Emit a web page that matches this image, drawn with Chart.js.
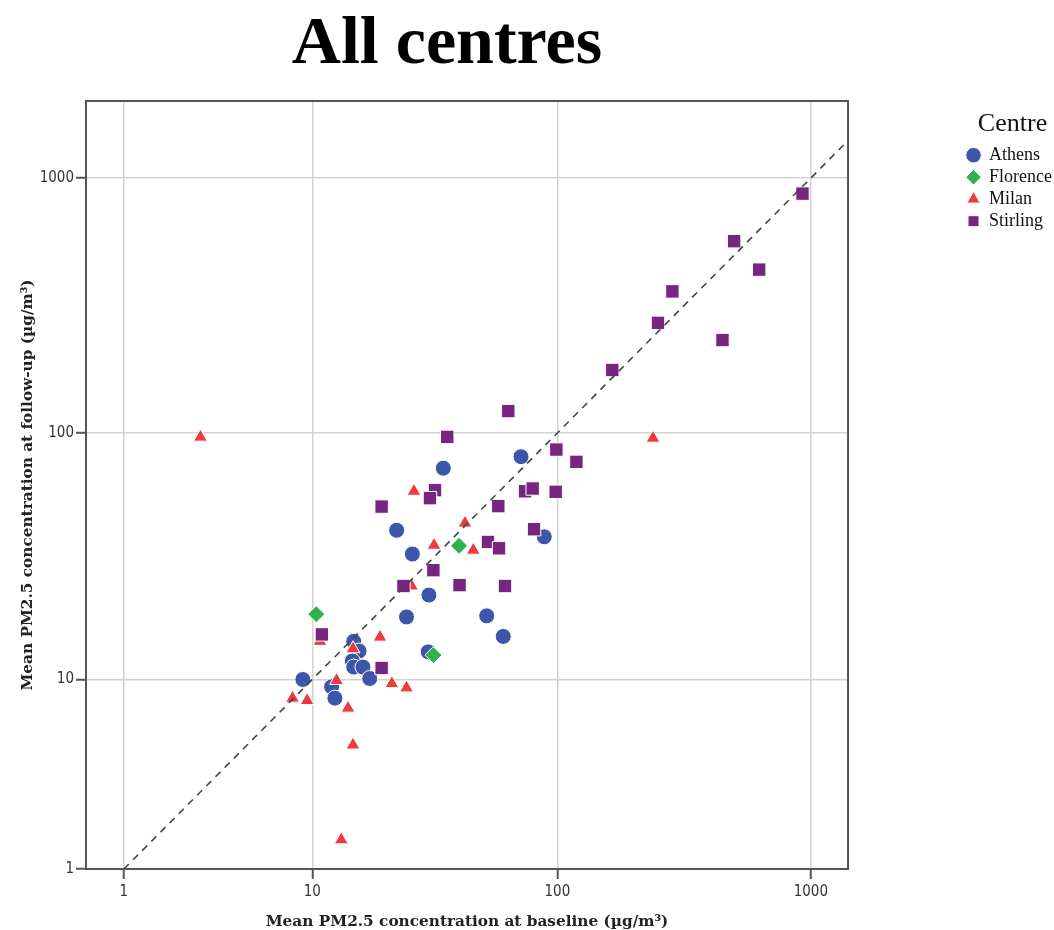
<!DOCTYPE html>
<html>
<head>
<meta charset="utf-8">
<script src="https://cdn.jsdelivr.net/npm/chart.js@4.4.1/dist/chart.umd.min.js"></script>
<style>
  html, body { margin: 0; padding: 0; background: #fff; overflow: hidden; }
  #wrap { position: relative; width: 1054px; height: 930px; }
  #title { position: absolute; left: 0; top: 6px; width: 894px; text-align: center;
           font-family: 'Liberation Serif', 'Times New Roman', serif; font-weight: bold;
           font-size: 68px; line-height: 1; color: #000; }
  #box { position: absolute; left: 0; top: 0; width: 1054px; height: 930px; }
</style>
</head>
<body>
<div id="wrap">
  <div id="title">All centres</div>
  <div id="box"><canvas id="c"></canvas></div>
</div>
<script>
// ---- data (µg/m³) ----
const centres = ['Athens', 'Florence', 'Milan', 'Stirling'];

const athensBaseline = [9.1, 12.1, 12.5, 15.0, 15.8, 14.8, 15.0, 16.4, 17.5, 24.8, 30.6, 30.4, 22.6, 26.2, 35.0, 71.7, 88.7, 52.3, 60.9];
const athensFollowUp = [10.0, 9.3, 8.3, 14.5, 13.2, 12.0, 11.3, 11.3, 10.1, 18.3, 22.5, 13.1, 41.1, 33.0, 72.6, 80.6, 38.7, 18.5, 15.2];

const florenceBaseline = [10.4, 31.9, 40.5];
const florenceFollowUp = [18.8, 12.7, 35.6];

const milanBaseline = [3.0, 239, 26.6, 42.8, 32.1, 46.2, 26.0, 19.3, 10.8, 14.9, 12.7, 21.6, 24.8, 8.2, 9.5, 14.2, 14.9, 13.3];
const milanFollowUp = [96.3, 95.4, 58.8, 43.9, 35.8, 34.2, 24.5, 15.1, 14.5, 13.5, 9.9, 9.6, 9.2, 8.3, 8.1, 7.5, 5.1, 1.6];

const stirlingBaseline = [927, 499, 626, 285, 250, 449, 165, 63.8, 36.3, 99.1, 119, 32.4, 30.9, 19.6, 58.2, 74.4, 79.8, 98.5, 80.8, 52.9, 58.6, 31.9, 24.1, 40.7, 61.9, 11.0, 19.6];
const stirlingFollowUp = [869, 566, 438, 360, 271, 232, 177, 122, 96.5, 86.0, 76.9, 59.4, 55.2, 51.1, 51.3, 58.8, 60.3, 58.5, 41.5, 36.9, 34.8, 28.4, 24.5, 24.7, 24.5, 15.5, 11.2];

// reference line y = x
const identityLine = [1, 1500];

// axes
const xTickValues = [1, 10, 100, 1000];
const xTickLabels = ['1', '10', '100', '1000'];
const yTickValues = [1, 10, 100, 1000];
const yTickLabels = ['1', '10', '100', '1000'];
const xRange = [0.42, 1400];
const yRange = [1, 2000];

// axis transform used by the original chart: log10(value + 1)
const t = v => Math.log10(v + 1);
const pts = (xs, ys) => xs.map((x, i) => ({ x: t(x), y: t(ys[i]) }));

const colors = { Athens: '#3E56AA', Florence: '#2DB34A', Milan: '#EE3A3A', Stirling: '#77267F' };

const datasets = [
  { label: 'Athens', data: pts(athensBaseline, athensFollowUp), pointStyle: 'circle', pointRadius: 8, order: 4 },
  { label: 'Florence', data: pts(florenceBaseline, florenceFollowUp), pointStyle: 'rectRot', pointRadius: 8.5, order: 3 },
  { label: 'Milan', data: pts(milanBaseline, milanFollowUp), pointStyle: 'triangle', pointRadius: 8, order: 2 },
  { label: 'Stirling', data: pts(stirlingBaseline, stirlingFollowUp), pointStyle: 'rect', pointRadius: 9.5, order: 1 }
].map(d => Object.assign(d, {
  backgroundColor: colors[d.label],
  borderColor: '#ffffff',
  borderWidth: 1,
  pointHoverRadius: d.pointRadius,
  showLine: false
}));

datasets.push({
  label: 'ref',
  data: identityLine.map(v => ({ x: t(v), y: t(v) })),
  showLine: true,
  borderColor: '#444',
  borderWidth: 1.6,
  borderDash: [7, 6],
  pointRadius: 0,
  fill: false,
  order: 0,
  clip: 0
});

const tickFont = { family: "'DejaVu Sans Condensed', 'DejaVu Sans', sans-serif", size: 15 };
const titleFont = { family: "'DejaVu Serif', 'Liberation Serif', serif", size: 15.3, weight: 'bold', lineHeight: 1 };

const framePlugin = {
  id: 'frame',
  beforeDatasetsDraw(chart) {
    const { ctx, chartArea: { left, top, right, bottom } } = chart;
    ctx.save();
    ctx.strokeStyle = '#555';
    ctx.lineWidth = 2;
    ctx.strokeRect(left, top, right - left, bottom - top);
    ctx.restore();
  }
};

new Chart(document.getElementById('c'), {
  type: 'scatter',
  data: { datasets },
  plugins: [framePlugin],
  options: {
    responsive: true,
    maintainAspectRatio: false,
    animation: false,
    layout: { padding: { top: 101, left: 0, right: -8, bottom: 0 } },
    plugins: {
      tooltip: { enabled: false },
      title: { display: false },
      legend: {
        position: 'right',
        align: 'start',
        title: {
          display: true,
          text: 'Centre',
          color: '#111',
          font: { family: "'Liberation Serif', 'Times New Roman', serif", size: 26 },
          padding: { top: 10, bottom: 0 }
        },
        labels: {
          usePointStyle: true,
          boxWidth: 13,
          boxHeight: 11,
          padding: 4,
          color: '#111',
          font: { family: "'Liberation Serif', 'Times New Roman', serif", size: 18 },
          filter: item => item.datasetIndex < centres.length,
          sort: (a, b) => a.datasetIndex - b.datasetIndex
        }
      }
    },
    scales: {
      x: {
        type: 'linear',
        position: 'bottom',
        min: t(xRange[0]),
        max: t(xRange[1]),
        afterBuildTicks: s => { s.ticks = xTickValues.map(v => ({ value: t(v) })); },
        afterFit: s => { s.height = 61; },
        ticks: {
          autoSkip: false, maxRotation: 0, padding: 4, color: '#333', font: tickFont,
          callback: (v, i) => xTickLabels[i]
        },
        grid: { color: '#d2d2d2', lineWidth: 1.5, tickColor: '#555', tickWidth: 2, tickLength: 10 },
        border: { display: false },
        title: {
          display: true, text: 'Mean PM2.5 concentration at baseline (µg/m³)',
          color: '#222', font: titleFont, padding: { top: 0, bottom: 0 }
        }
      },
      y: {
        type: 'linear',
        position: 'left',
        min: t(yRange[0]),
        max: t(yRange[1]),
        afterBuildTicks: s => { s.ticks = yTickValues.map(v => ({ value: t(v) })); },
        afterFit: s => { s.width = 86; },
        ticks: {
          autoSkip: false, padding: 2, color: '#333', font: tickFont,
          callback: (v, i) => yTickLabels[i]
        },
        grid: { color: '#d2d2d2', lineWidth: 1.5, tickColor: '#555', tickWidth: 2, tickLength: 10 },
        border: { display: false },
        title: {
          display: true, text: 'Mean PM2.5 concentration at follow-up (µg/m³)',
          color: '#222', font: titleFont, padding: { top: 20, bottom: 0 }
        }
      },
      gap: {
        type: 'linear',
        position: 'right',
        axis: 'y',
        display: true,
        ticks: { display: false },
        grid: { display: false, drawTicks: false },
        border: { display: false },
        afterFit: s => { s.width = 115; }
      }
    }
  }
});
</script>
</body>
</html>
